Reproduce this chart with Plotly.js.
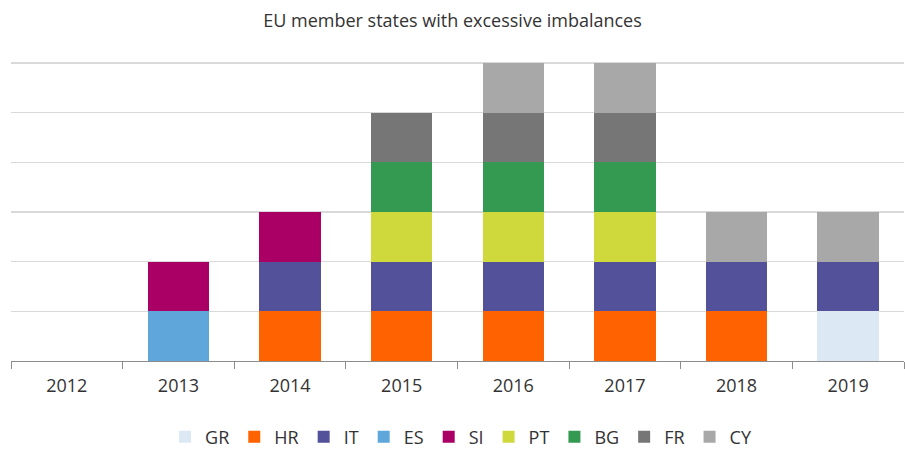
<!DOCTYPE html>
<html>
<head>
<meta charset="utf-8">
<script src="https://cdn.plot.ly/plotly-3.0.1.min.js"></script>
<style>html,body{margin:0;padding:0;background:#fff;}#chart{width:905px;height:450px;}</style>
</head>
<body>
<div id="chart"></div>
<script>
var years = ["2012","2013","2014","2015","2016","2017","2018","2019"];
var seriesNames = ["GR","HR","IT","ES","SI","PT","BG","FR","CY"];
var GR = [0,0,0,0,0,0,0,1];
var HR = [0,0,1,1,1,1,1,0];
var IT = [0,0,1,1,1,1,1,1];
var ES = [0,1,0,0,0,0,0,0];
var SI = [0,1,1,0,0,0,0,0];
var PT = [0,0,0,1,1,1,0,0];
var BG = [0,0,0,1,1,1,0,0];
var FR = [0,0,0,1,1,1,0,0];
var CY = [0,0,0,0,1,1,1,1];
var seriesValues = [GR,HR,IT,ES,SI,PT,BG,FR,CY];
var colors = ["#dce9f5","#ff6200","#525199","#5fa7da","#aa0066","#d0d93c","#349a52","#767676","#a8a8a8"];

var traces = seriesNames.map(function(n,i){
  return {type:"bar", name:n, x:years, y:seriesValues[i], marker:{color:colors[i], line:{width:0}}, hoverinfo:"x+y+name"};
});

var layout = {
  width:905, height:450,
  barmode:"stack", bargap:0.45,
  paper_bgcolor:"#fff", plot_bgcolor:"#fff",
  font:{family:"Open Sans, sans-serif", size:18, color:"#333"},
  title:{text:"EU member states with excessive imbalances", x:0.5, xanchor:"center", y:0.955, yanchor:"middle", font:{size:18, color:"#333"}},
  margin:{l:11, r:1, t:61, b:89},
  xaxis:{type:"category", showline:true, linecolor:"#8c8c8c", linewidth:1, ticks:"outside", tickson:"boundaries", ticklen:7, tickcolor:"#8c8c8c", tickfont:{size:18,color:"#333"}, ticklabelstandoff:8, showgrid:false, fixedrange:true, automargin:false},
  yaxis:{range:[0,6.04], tickvals:[1,2,3,4,5,6], showticklabels:false, showgrid:true, gridcolor:"#d9d9d9", gridwidth:1.5, zeroline:false, showline:false, fixedrange:true, automargin:false},
  legend:{orientation:"h", x:0.504, xanchor:"center", yref:"container", y:0.029, yanchor:"middle", font:{size:18,color:"#333"}, traceorder:"normal", itemwidth:30},
  showlegend:true
};
Plotly.newPlot("chart", traces, layout, {displayModeBar:false, staticPlot:true});
</script>
</body>
</html>
